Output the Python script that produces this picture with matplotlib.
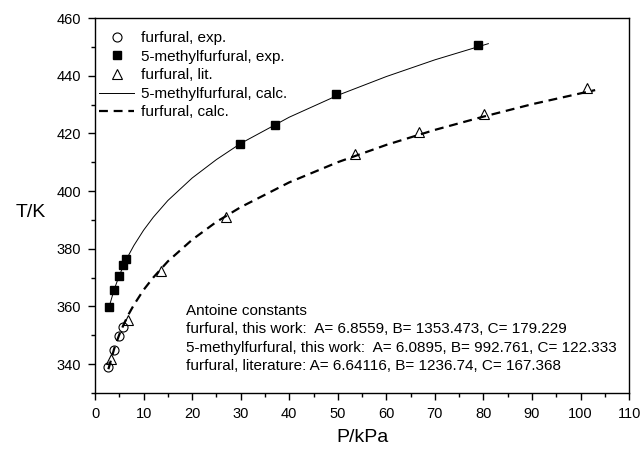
import numpy as np
import matplotlib
matplotlib.use('Agg')
import matplotlib.pyplot as plt
from matplotlib.ticker import MultipleLocator
from matplotlib.lines import Line2D

plt.rcParams['font.family'] = ['Liberation Sans', 'DejaVu Sans']

# furfural, exp.
furf_exp_P = [2.75, 4.0, 5.0, 5.85]
furf_exp_T = [339.1, 344.9, 349.6, 353.0]

# 5-methylfurfural, exp.
mf_exp_P = [2.95, 4.0, 5.0, 5.85, 6.4, 29.9, 37.0, 49.7, 78.8]
mf_exp_T = [359.8, 365.8, 370.4, 374.3, 376.3, 416.2, 423.0, 433.6, 450.8]

# furfural, lit.
lit_P = [3.2, 6.7, 13.5, 26.9, 53.6, 66.8, 80.1, 101.4]
lit_T = [341.8, 355.1, 372.3, 391.0, 412.7, 420.4, 426.7, 435.7]

# 5-methylfurfural, calc.
mf_calc_P = [3, 4, 5, 6, 7, 8, 10, 12, 15, 20, 25, 30, 40, 50, 60, 70, 81]
mf_calc_T = [360.4, 366.1, 370.7, 374.6, 378.0, 381.1, 386.4, 390.9, 396.7,
             404.5, 410.9, 416.5, 425.6, 433.2, 439.7, 445.5, 451.1]

# furfural, calc.
furf_calc_P = [2.75, 4, 5, 6, 7, 8, 10, 12, 15, 20, 25, 30, 40, 50, 60, 70,
               80, 90, 103]
furf_calc_T = [338.2, 345.6, 350.2, 354.1, 357.5, 360.5, 365.7, 370.0, 375.6,
               383.1, 389.3, 394.4, 403.0, 410.0, 416.0, 421.2, 425.8, 430.1,
               435.0]

antoine_lines = [
    'Antoine constants',
    'furfural, this work:  A= 6.8559, B= 1353.473, C= 179.229',
    '5-methylfurfural, this work:  A= 6.0895, B= 992.761, C= 122.333',
    'furfural, literature: A= 6.64116, B= 1236.74, C= 167.368',
]

fig = plt.figure(figsize=(6.42, 4.5), dpi=100)
ax = fig.add_axes([0.148, 0.127, 0.832, 0.833])

ax.plot(mf_calc_P, mf_calc_T, '-', color='black', lw=0.7)
ax.plot(furf_calc_P, furf_calc_T, color='black', lw=1.6, dashes=(4, 2.6))

ax.plot(furf_exp_P, furf_exp_T, 'o', ms=6.5, mfc='none', mec='black', mew=0.8)
ax.plot(mf_exp_P, mf_exp_T, 's', ms=6.3, mfc='black', mec='black')
ax.plot(lit_P, lit_T, '^', ms=7.5, mfc='none', mec='black', mew=0.8)

ax.set_xlim(0, 110)
ax.set_ylim(330, 460)
ax.xaxis.set_major_locator(MultipleLocator(10))
ax.xaxis.set_minor_locator(MultipleLocator(5))
ax.yaxis.set_major_locator(MultipleLocator(20))
ax.yaxis.set_minor_locator(MultipleLocator(10))
ax.tick_params(which='both', direction='out', top=False, right=False, width=1.0)
ax.tick_params(which='major', length=5, labelsize=10.5, pad=5)
ax.tick_params(which='minor', length=3)
for s in ax.spines.values():
    s.set_linewidth(1.0)

ax.set_xlabel('P/kPa', fontsize=14, labelpad=6)
ax.set_ylabel('T/K', fontsize=14, rotation=0, va='center', ha='center')
ax.yaxis.set_label_coords(-0.12, 0.48)

handles = [
    Line2D([], [], ls='none', marker='o', ms=6.5, mfc='none', mec='black', mew=0.8),
    Line2D([], [], ls='none', marker='s', ms=6.3, mfc='black', mec='black'),
    Line2D([], [], ls='none', marker='^', ms=7.5, mfc='none', mec='black', mew=0.8),
    Line2D([], [], color='black', lw=0.7),
    Line2D([], [], color='black', lw=1.6, dashes=(4, 2.6)),
]
labels = ['furfural, exp.', '5-methylfurfural, exp.', 'furfural, lit.',
          '5-methylfurfural, calc.', 'furfural, calc.']
ax.legend(handles, labels, loc='upper left', bbox_to_anchor=(0.008, 0.965),
          frameon=False, fontsize=11, handlelength=2.3, handletextpad=0.4,
          labelspacing=0.3, borderpad=0, borderaxespad=0)

ty = [356.9, 350.6, 344.0, 337.8]
for t, yy in zip(antoine_lines, ty):
    ax.text(18.8, yy, t, fontsize=11, va='baseline', ha='left')

fig.savefig('out.png', dpi=100)
